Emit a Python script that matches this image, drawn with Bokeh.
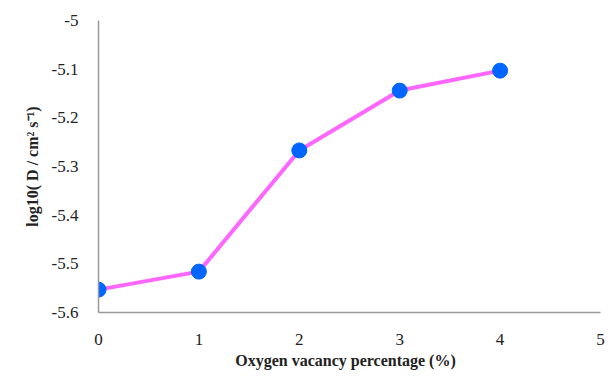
from bokeh.plotting import figure
from bokeh.embed import file_html
from bokeh.resources import INLINE
from bokeh.models import Range1d, FixedTicker

vacancy = [0, 1, 2, 3, 4]
log_d = [-5.553, -5.516, -5.267, -5.144, -5.103]
x_ticks = [0, 1, 2, 3, 4, 5]
y_ticks = [-5.6, -5.5, -5.4, -5.3, -5.2, -5.1, -5.0]
y_tick_labels = {-5.6: "-5.6", -5.5: "-5.5", -5.4: "-5.4", -5.3: "-5.3",
                 -5.2: "-5.2", -5.1: "-5.1", -5.0: "-5"}

p = figure(width=611, height=378, output_backend="svg", toolbar_location=None,
           x_range=Range1d(0, 5), y_range=Range1d(-5.6, -5.0),
           min_border_left=98, min_border_right=11, min_border_top=20, min_border_bottom=66)
p.outline_line_color = None
p.xgrid.grid_line_color = None
p.ygrid.grid_line_color = None

p.line(vacancy, log_d, line_color="#FF66FF", line_width=4)
p.scatter(vacancy, log_d, size=15, fill_color="#0066FF", line_color="#0066FF")

p.xaxis.axis_line_color = "#999999"
p.yaxis.axis_line_color = "#999999"
p.xaxis.axis_line_width = 1.5
p.yaxis.axis_line_width = 1.5
p.xaxis.major_tick_line_color = None
p.yaxis.major_tick_line_color = None
p.xaxis.minor_tick_line_color = None
p.yaxis.minor_tick_line_color = None
p.xaxis.major_label_text_font = "serif"
p.yaxis.major_label_text_font = "serif"
p.xaxis.major_label_text_font_size = "17px"
p.yaxis.major_label_text_font_size = "17px"
p.xaxis.major_label_text_color = "#222222"
p.yaxis.major_label_text_color = "#222222"
p.xaxis.axis_label_text_font = "Liberation Serif"
p.yaxis.axis_label_text_font = "Liberation Serif"
p.xaxis.axis_label_text_font_style = "bold"
p.yaxis.axis_label_text_font_style = "bold"
p.xaxis.axis_label_text_font_size = "16px"
p.yaxis.axis_label_text_font_size = "16px"
p.xaxis.axis_label_text_color = "#222222"
p.yaxis.axis_label_text_color = "#222222"

p.xaxis.ticker = FixedTicker(ticks=x_ticks)
p.yaxis.ticker = FixedTicker(ticks=y_ticks)
p.yaxis.major_label_overrides = y_tick_labels
p.xaxis.major_label_standoff = 15
p.yaxis.major_label_standoff = 14
p.xaxis.axis_label = "Oxygen vacancy  percentage  (%)"
p.yaxis.axis_label = "log10( D / cm\u00b2 s\u207b\u00b9)"
p.xaxis.axis_label_standoff = 4
p.yaxis.axis_label_standoff = 8

open("out.html", "w").write(file_html(p, INLINE))
